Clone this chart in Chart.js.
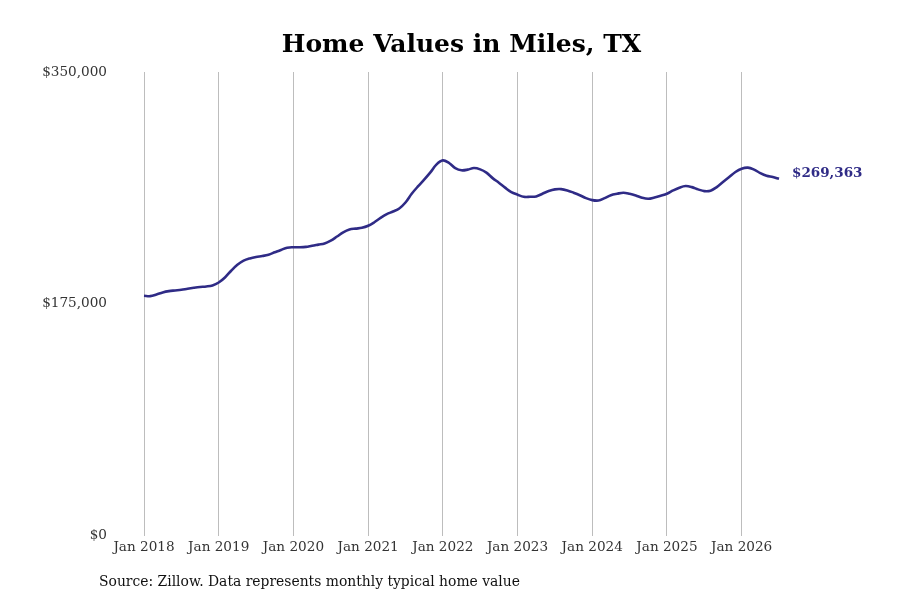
<!DOCTYPE html>
<html>
<head>
<meta charset="utf-8">
<script src="https://cdn.jsdelivr.net/npm/chart.js@4.4.0/dist/chart.umd.min.js"></script>
<style>
  html, body { margin: 0; padding: 0; background: #fff; }
  #wrap { width: 900px; height: 600px; }
</style>
</head>
<body>
<div id="wrap"><canvas id="grafico" width="900" height="600"></canvas></div>
<script>
// monthly typical home value, Jan 2018 - Jul 2026
var anos = [2018, 2019, 2020, 2021, 2022, 2023, 2024, 2025, 2026];
var meses = ["Jan", "Feb", "Mar", "Apr", "May", "Jun", "Jul", "Aug", "Sep", "Oct", "Nov", "Dec"];

var valores2018 = [181100, 180800, 182000, 183600, 184600, 185100, 185600, 186400, 187100, 187700, 188100, 188900];
var valores2019 = [191100, 194900, 200000, 204500, 207600, 209300, 210400, 211100, 212100, 213900, 215700, 217400];
var valores2020 = [217700, 217700, 218000, 218900, 219700, 220500, 222700, 225800, 229000, 231100, 231800, 232400];
var valores2021 = [233900, 236600, 239900, 242700, 244700, 247000, 251500, 258100, 263600, 268700, 274200, 280300];
var valores2022 = [283300, 281300, 277500, 275800, 276300, 277500, 276500, 274000, 269900, 266400, 262700, 259300];
var valores2023 = [257400, 255800, 255800, 256100, 258100, 260100, 261400, 261600, 260600, 258900, 257000, 254800];
var valores2024 = [253300, 253000, 254800, 257000, 258100, 258900, 258100, 256800, 255100, 254300, 255300, 256600];
var valores2025 = [258100, 260600, 262700, 263900, 263100, 261400, 260100, 260400, 263100, 266900, 270700, 274500];
var valores2026 = [277000, 277800, 276300, 273700, 271700, 270700, 269363];

var yTicks = [0, 175000, 350000];
var titulo = "Home Values in Miles, TX";
var fonte = "Source: Zillow. Data represents monthly typical home value";

var valores = [].concat(valores2018, valores2019, valores2020, valores2021, valores2022,
  valores2023, valores2024, valores2025, valores2026);

var labels = [];
for (var i = 0; i < valores.length; i++) {
  labels.push(meses[i % 12] + " " + anos[Math.floor(i / 12)]);
}

var corLinha = "#2f2b86";
var serif = "'DejaVu Serif', 'Liberation Serif', serif";

function dinheiro(v) {
  return "$" + Number(v).toLocaleString("en-US");
}

// end label next to the last point + source line at the bottom
var extras = {
  id: "extras",
  afterDatasetsDraw: function(chart) {
    var ctx = chart.ctx;
    var meta = chart.getDatasetMeta(0);
    var ultimo = meta.data[meta.data.length - 1];
    ctx.save();
    ctx.font = "bold 13.5px " + serif;
    ctx.fillStyle = corLinha;
    ctx.textAlign = "left";
    ctx.textBaseline = "middle";
    ctx.fillText(dinheiro(valores[valores.length - 1]), ultimo.x + 13, ultimo.y - 5);

    ctx.font = "13.9px " + serif;
    ctx.fillStyle = "#111";
    ctx.fillText(fonte, 99, 582);
    ctx.restore();
  }
};

var ctx = document.getElementById("grafico").getContext("2d");
var myChart = new Chart(ctx, {
  type: "line",
  data: {
    labels: labels,
    datasets: [{
      label: "Home value",
      data: valores,
      borderColor: corLinha,
      borderWidth: 2.6,
      pointRadius: 0,
      tension: 0.35,
      fill: false
    }]
  },
  options: {
    responsive: false,
    animation: false,
    layout: {
      padding: { left: 0, right: 121, top: 20, bottom: 40 }
    },
    plugins: {
      legend: { display: false },
      tooltip: { enabled: false },
      title: {
        display: true,
        text: titulo,
        fullSize: false,
        color: "#000",
        font: { family: serif, size: 25, weight: "bold" },
        padding: { top: 10, bottom: 12 }
      }
    },
    scales: {
      x: {
        type: "category",
        offset: false,
        grid: { color: "#bdbdbd", lineWidth: 1, drawTicks: false },
        border: { display: false },
        afterFit: function(scale) {
          scale.paddingLeft = 0;
          scale.paddingRight = 0;
        },
        ticks: {
          autoSkip: false,
          maxRotation: 0,
          padding: 4,
          color: "#333",
          font: { family: serif, size: 13.6 },
          callback: function(val, index) {
            if (index % 12 === 0) return this.getLabelForValue(val);
            return null;
          }
        }
      },
      y: {
        min: 0,
        max: 350000,
        afterBuildTicks: function(scale) {
          scale.ticks = yTicks.map(function(v) { return { value: v }; });
        },
        afterFit: function(scale) {
          scale.width = 144;
        },
        grid: { display: false, drawTicks: false },
        border: { display: false },
        ticks: {
          padding: 37,
          color: "#333",
          font: { family: serif, size: 13.6 },
          callback: function(v) { return dinheiro(v); }
        }
      }
    }
  },
  plugins: [extras]
});
</script>
</body>
</html>
